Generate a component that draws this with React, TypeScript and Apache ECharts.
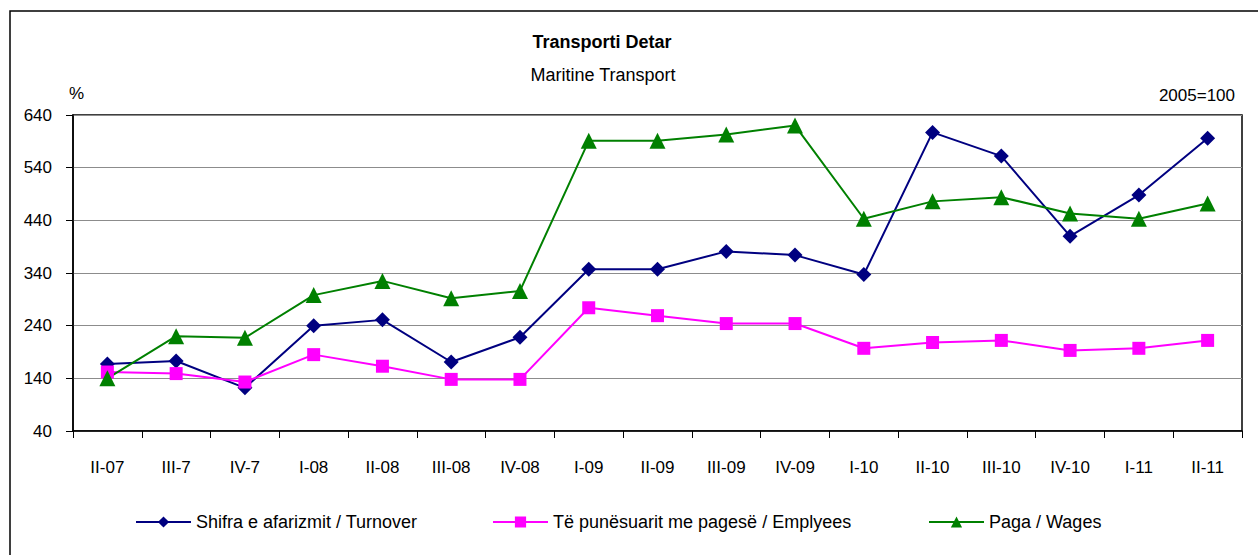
import React, { useEffect, useRef } from "react";
import * as echarts from "echarts";

const categories = ["II-07", "III-7", "IV-7", "I-08", "II-08", "III-08", "IV-08", "I-09", "II-09", "III-09", "IV-09", "I-10", "II-10", "III-10", "IV-10", "I-11", "II-11"];
const turnover = [167, 173, 122, 240, 251, 171, 218, 347, 347, 381, 374, 337, 607, 562, 410, 488, 596];
const employees = [152, 149, 133, 185, 163, 138, 138, 274, 259, 244, 244, 197, 208, 212, 193, 197, 212];
const wages = [140, 220, 217, 298, 325, 292, 306, 591, 591, 603, 620, 443, 476, 484, 453, 443, 472];
const seriesNames = ["Shifra e afarizmit / Turnover", "Të punësuarit me pagesë / Emplyees", "Paga / Wages"];
const titleText = "Transporti Detar";
const subtitleText = "Maritine Transport";

const FONT = "'Liberation Sans Narrow', 'Arial Narrow', 'Liberation Sans', Arial, sans-serif";

export default function App() {
  const ref = useRef<HTMLDivElement>(null);
  useEffect(() => {
    if (!ref.current) return;
    const chart = echarts.init(ref.current, null, { renderer: "svg" });
    const mk = (name: string, data: number[], color: string, symbol: string, size: number) => ({
      name,
      type: "line",
      data,
      symbol,
      symbolSize: size,
      lineStyle: { color, width: 2 },
      itemStyle: { color },
      emphasis: { disabled: true },
    });
    chart.setOption({
      animation: false,
      backgroundColor: "#fff",
      textStyle: { fontFamily: FONT },
      title: [
        { text: titleText, left: 597, top: 28, textAlign: "center", textStyle: { fontFamily: FONT, fontSize: 18, fontWeight: "bold", color: "#000" } },
        { text: subtitleText, left: 598, top: 61, textAlign: "center", textStyle: { fontFamily: FONT, fontSize: 18, fontWeight: "normal", color: "#000" } },
      ],
      graphic: [
        { type: "polyline", shape: { points: [[10, 600], [10, 11], [1300, 11]] }, style: { stroke: "#000", lineWidth: 1.5, fill: null } },
        { type: "text", left: 69, top: 85, style: { text: "%", font: `17px ${FONT}`, fill: "#000" } },
        { type: "text", right: 23, top: 87, style: { text: "2005=100", font: `17px ${FONT}`, fill: "#000" } },
      ],
      legend: [0, 1, 2].map((i) => ({
        data: [seriesNames[i]],
        left: [135, 492, 928][i],
        top: 513,
        padding: 0,
        itemWidth: 55,
        itemHeight: 14,
        textStyle: { fontFamily: FONT, fontSize: 18, color: "#000" },
        selectedMode: false,
      })),
      grid: { left: 73, top: 115, right: 16, bottom: 124, show: true, borderColor: "#000", borderWidth: 1.5, containLabel: false },
      xAxis: {
        type: "category",
        data: categories,
        boundaryGap: true,
        axisLine: { lineStyle: { color: "#000", width: 1.5 } },
        axisTick: { show: true, length: 7, lineStyle: { color: "#000" } },
        axisLabel: { fontFamily: FONT, fontSize: 17, color: "#000", margin: 28, interval: 0 },
        splitLine: { show: false },
      },
      yAxis: {
        type: "value",
        min: 40,
        max: 640,
        interval: 100,
        axisLine: { show: true, lineStyle: { color: "#000", width: 1.5 } },
        axisTick: { show: true, length: 7, lineStyle: { color: "#000" } },
        axisLabel: { fontFamily: FONT, fontSize: 17, color: "#000", margin: 21 },
        splitLine: { show: true, lineStyle: { color: "#8c8c8c", width: 1 } },
      },
      series: [
        mk(seriesNames[0], turnover, "#000080", "diamond", 15),
        mk(seriesNames[1], employees, "#FF00FF", "rect", 13),
        mk(seriesNames[2], wages, "#008000", "triangle", 16),
      ],
    });
    return () => chart.dispose();
  }, []);
  return <div ref={ref} style={{ position: "absolute", left: 0, top: 0, width: 1258, height: 555 }} />;
}
